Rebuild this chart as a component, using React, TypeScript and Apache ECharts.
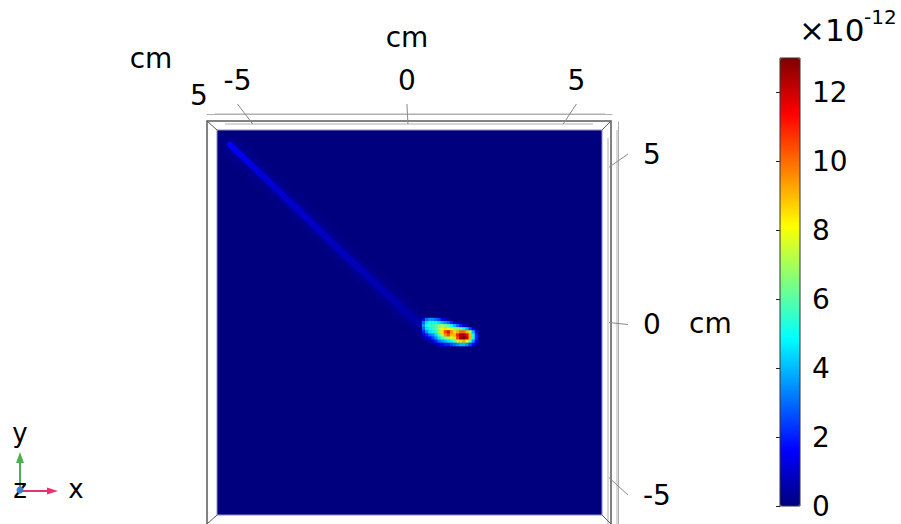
import React, { useEffect, useRef } from "react";
import * as echarts from "echarts";

// ---------- colour scale (values ×10^-12) ----------
const colorMin = 0;
const colorMax = 13;
const colorTicks = [0, 2, 4, 6, 8, 10, 12];
const jetColors = ["#00007f", "#0000ff", "#007fff", "#00ffff", "#7fff7f", "#ffff00", "#ff7f00", "#ff0000", "#7f0000"];

// ---------- surface extent and axis ticks (cm) ----------
const xRange = [-6.15, 6.25];
const yRange = [-6.2, 6.2];
const xTickValues = [-5, 0, 5];
const yTickValues = [-5, 0, 5];
const backgroundLevel = 0;

// ---------- faint streak (cm, level) ----------
const streakX = [-5.74, -4.6, -2.0, 0.39];
const streakY = [5.73, 4.65, 2.15, -0.08];
const streakLevel = [1.7, 1.15, 0.8, 0.5];

// ---------- bright spot, sampled cells (rows top→bottom, columns left→right) ----------
const blobX0 = 0.5; // cm, first column centre
const blobY0 = 0.1; // cm, first row centre
const blobCell = 0.1; // cm
const blobRows = [
  [1.5, 3, 3.5, 3.5, 3, 2.5, 1.5, 1, 0.5, 0, 0, 0, 0, 0, 0, 0, 0, 0],
  [3, 4.5, 5, 5, 5, 4.5, 4, 3.5, 3, 2, 1, 0.5, 0, 0, 0, 0, 0, 0],
  [3.5, 5, 5.5, 5.5, 6, 6.5, 7, 6.5, 6, 5, 4, 3, 2, 1, 0.5, 0, 0, 0],
  [3, 4.5, 5, 5.5, 6, 7, 8, 8.5, 8, 7.5, 7, 6.5, 6, 5, 4, 2.5, 1, 0],
  [2, 3.5, 4.5, 5, 5.5, 7, 8.5, 10.5, 11.5, 9.5, 8.5, 9, 10, 10, 9, 7, 4, 1.5],
  [1, 2, 3, 3.5, 4.5, 6, 7.5, 9.5, 10.5, 9, 9, 11, 12.5, 12.5, 11.5, 9, 5, 2],
  [0.5, 1, 1.5, 2.5, 3.5, 4.5, 5.5, 6.5, 7, 7.5, 8.5, 10.5, 12.5, 13, 12, 9, 5, 2],
  [0, 0, 0.5, 1, 2, 3, 3.5, 4, 4.5, 5, 6, 7.5, 8.5, 9, 8, 6, 3.5, 1.5],
  [0, 0, 0, 0, 0.5, 1, 1.5, 2, 2, 2.5, 3, 3.5, 4, 4, 3.5, 2.5, 1.5, 0.5],
];

const FONT = "DejaVu Sans";
const FS = 28;

function hexToRgb(h: string) {
  return [parseInt(h.slice(1, 3), 16), parseInt(h.slice(3, 5), 16), parseInt(h.slice(5, 7), 16)];
}
function levelColor(v: number) {
  const t = Math.max(0, Math.min(1, (v - colorMin) / (colorMax - colorMin))) * (jetColors.length - 1);
  const i = Math.min(Math.floor(t), jetColors.length - 2);
  const f = t - i;
  const a = hexToRgb(jetColors[i]);
  const b = hexToRgb(jetColors[i + 1]);
  const c = a.map((x, k) => Math.round(x + (b[k] - x) * f));
  return `rgb(${c[0]},${c[1]},${c[2]})`;
}

export default function App() {
  const ref = useRef<HTMLDivElement>(null);
  useEffect(() => {
    const chart = echarts.init(ref.current!, null, { renderer: "svg" });

    const blobData: number[][] = [];
    blobRows.forEach((row, r) =>
      row.forEach((v, c) => {
        if (v > 0) blobData.push([blobX0 + c * blobCell, blobY0 - r * blobCell, v]);
      })
    );

    const x0 = streakX[0];
    const x1 = streakX[streakX.length - 1];
    const streakGradient = new echarts.graphic.LinearGradient(
      0,
      0,
      1,
      1,
      streakX.map((x, i) => ({ offset: (x - x0) / (x1 - x0), color: levelColor(streakLevel[i]) }))
    );

    const axisGray = "#b0b0b0";

    const option: any = {
      animation: false,
      backgroundColor: "#ffffff",
      textStyle: { fontFamily: FONT },
      grid: [
        { left: 217, top: 130, width: 385, height: 385, show: false },
        { left: 780, top: 58, width: 20, height: 448, show: false },
        { left: 207, top: 104, width: 405, height: 10, show: false },
        { left: 618, top: 122, width: 10, height: 402, show: false },
      ],
      xAxis: [
        { gridIndex: 0, type: "value", min: xRange[0], max: xRange[1], show: false },
        { gridIndex: 1, type: "value", show: false },
        {
          gridIndex: 2,
          type: "value",
          position: "top",
          min: -5.9,
          max: 6.05,
          axisLine: { show: true, lineStyle: { color: axisGray, width: 1 } },
          axisTick: { show: false },
          splitLine: { show: false },
          axisLabel: { customValues: xTickValues, fontSize: FS, color: "#000", margin: 10, fontFamily: FONT },
        },
        { gridIndex: 3, type: "value", show: false },
      ],
      yAxis: [
        { gridIndex: 0, type: "value", min: yRange[0], max: yRange[1], show: false },
        {
          gridIndex: 1,
          type: "value",
          position: "right",
          min: colorMin,
          max: colorMax,
          axisLine: { show: false },
          axisTick: { show: true, inside: true, length: 4, customValues: colorTicks, lineStyle: { color: "#222" } },
          splitLine: { show: false },
          axisLabel: { customValues: colorTicks, fontSize: FS, color: "#000", margin: 12, fontFamily: FONT },
        },
        { gridIndex: 2, type: "value", show: false },
        {
          gridIndex: 3,
          type: "value",
          position: "right",
          min: -5.85,
          max: 5.94,
          axisLine: { show: true, lineStyle: { color: axisGray, width: 1 } },
          axisTick: { show: false },
          splitLine: { show: false },
          axisLabel: { customValues: yTickValues, fontSize: FS, color: "#000", margin: 15, fontFamily: FONT },
        },
      ],
      visualMap: {
        type: "continuous",
        min: colorMin,
        max: colorMax,
        dimension: 2,
        seriesIndex: [0, 1],
        inRange: { color: jetColors },
        left: 780,
        top: 58,
        itemWidth: 20,
        itemHeight: 448,
        calculable: false,
        hoverLink: false,
        padding: 0,
      },
      series: [
        {
          type: "custom",
          name: "background",
          xAxisIndex: 0,
          yAxisIndex: 0,
          z: 1,
          silent: true,
          data: [[0, 0, backgroundLevel]],
          renderItem: (params: any, api: any) => {
            const cs = params.coordSys;
            return {
              type: "rect",
              shape: { x: cs.x, y: cs.y, width: cs.width, height: cs.height },
              style: { fill: api.visual("color"), stroke: "#8c8cc8", lineWidth: 1 },
            };
          },
        },
        {
          type: "custom",
          name: "field",
          xAxisIndex: 0,
          yAxisIndex: 0,
          z: 3,
          silent: true,
          data: blobData,
          renderItem: (params: any, api: any) => {
            const p = api.coord([api.value(0), api.value(1)]);
            const s = api.size([blobCell, blobCell]);
            return {
              type: "rect",
              shape: { x: p[0] - s[0] / 2, y: p[1] - s[1] / 2, width: s[0] + 0.5, height: s[1] + 0.5 },
              style: { fill: api.visual("color") },
            };
          },
        },
        {
          type: "line",
          name: "streak",
          xAxisIndex: 0,
          yAxisIndex: 0,
          z: 2,
          silent: true,
          showSymbol: false,
          data: streakX.map((x, i) => [x, streakY[i]]),
          lineStyle: {
            width: 6,
            color: streakGradient,
            cap: "round",
            opacity: 0.9,
            shadowBlur: 8,
            shadowColor: "rgba(20,20,230,0.7)",
          },
        },
      ],
    };
    chart.setOption(option);

    // 3D frame decorations
    const frameDark = "#5a5a5a";
    const lineEl = (x1: number, y1: number, x2: number, y2: number, color: string, w = 1) => ({
      type: "line",
      shape: { x1, y1, x2, y2 },
      style: { stroke: color, lineWidth: w },
      silent: true,
      z: 10,
    });
    const textEl = (text: string, x: number, y: number, align = "center", size = FS) => ({
      type: "text",
      x,
      y,
      silent: true,
      z: 10,
      style: { text, fill: "#000", font: `${size}px "${FONT}"`, align, verticalAlign: "middle" },
    });

    const els: any[] = [];
    // depth lines along the top and right edges
    els.push(lineEl(215, 114, 605, 114, axisGray));
    els.push(lineEl(225, 124, 593, 124, axisGray));
    els.push(lineEl(617, 130, 617, 524, axisGray));
    els.push(lineEl(608, 138, 608, 524, axisGray));
    // box front edges
    els.push({
      type: "polyline",
      shape: { points: [[207, 524], [207, 121], [611, 121], [611, 524]] },
      style: { stroke: frameDark, lineWidth: 1.5, fill: "none" },
      silent: true,
      z: 10,
    });
    els.push(lineEl(207, 121, 217, 130, frameDark));
    els.push(lineEl(611, 121, 602, 130, frameDark));
    els.push(lineEl(207, 524, 217, 515, frameDark));
    els.push(lineEl(611, 524, 602, 515, frameDark));
    // slanted ticks
    xTickValues.forEach((v) => {
      const xo = chart.convertToPixel({ xAxisIndex: 2 }, v) as number;
      const xi = chart.convertToPixel({ xAxisIndex: 0 }, v) as number;
      els.push(lineEl(xo, 104, xi, 124, "#8a8a8a"));
    });
    yTickValues.forEach((v) => {
      const yo = chart.convertToPixel({ yAxisIndex: 3 }, v) as number;
      const yi = chart.convertToPixel({ yAxisIndex: 0 }, v) as number;
      els.push(lineEl(628, yo, 609, yi, "#8a8a8a"));
    });
    // colour bar outline
    els.push({
      type: "rect",
      shape: { x: 780, y: 58, width: 20, height: 448 },
      style: { stroke: "#333", lineWidth: 1, fill: "none" },
      silent: true,
      z: 20,
    });
    // unit labels
    els.push(textEl("cm", 407, 37));
    els.push(textEl("cm", 151, 58));
    els.push(textEl("5", 199, 95));
    els.push(textEl("cm", 689, 323, "left"));
    els.push(textEl("×10", 799, 30, "left", 31));
    els.push(textEl("-12", 864, 17, "left", 20));
    // axis triad
    els.push(lineEl(20, 489, 20, 460, "#4caf50", 2));
    els.push({ type: "polygon", shape: { points: [[16, 463], [24, 463], [20, 452]] }, style: { fill: "#4caf50" }, z: 10, silent: true });
    els.push(lineEl(20, 491, 50, 491, "#e8336e", 2));
    els.push({ type: "polygon", shape: { points: [[47, 487.5], [47, 494.5], [58, 491]] }, style: { fill: "#e8336e" }, z: 10, silent: true });
    els.push({ type: "circle", shape: { cx: 20, cy: 490, r: 3.5 }, style: { fill: "#3b7dd8" }, z: 11, silent: true });
    els.push(textEl("y", 20, 433, "center", 26));
    els.push(textEl("z", 20, 489, "center", 26));
    els.push(textEl("x", 76, 489, "center", 26));

    chart.setOption({ graphic: { elements: els } });

    return () => chart.dispose();
  }, []);
  return <div ref={ref} style={{ position: "fixed", left: 0, top: 0, width: 901, height: 524 }} />;
}
